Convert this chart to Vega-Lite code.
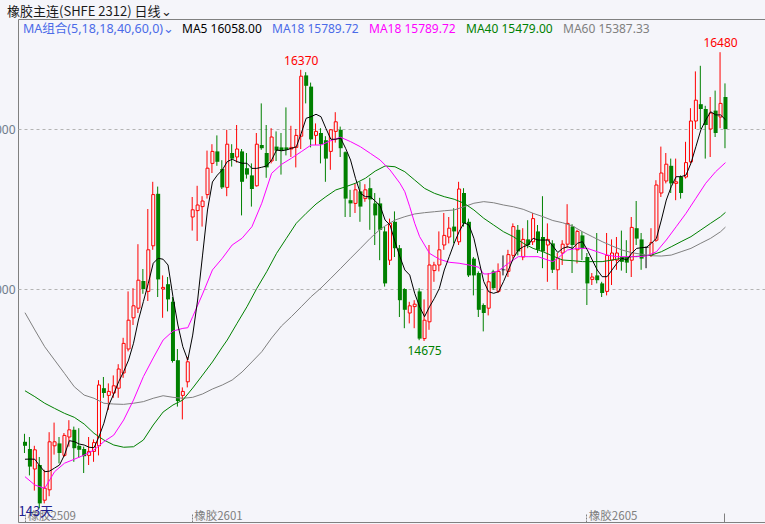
{
"$schema": "https://vega.github.io/schema/vega-lite/v6.json",
"width": 748, "height": 503,
"autosize": {"type": "none"},
"padding": {"left": 18, "top": 19, "right": 0, "bottom": 2},
"background": "#f5f5fa",
"title": {"text": "橡胶主连(SHFE 2312) 日线⌄", "anchor": "start", "frame": "group", "dx": -11, "dy": 15, "offset": 9, "baseline": "middle", "font": "Noto Sans CJK SC", "fontSize": 13, "fontWeight": "normal", "color": "#1a1a1a"},
"config": {"view": {"stroke": "#808080", "strokeWidth": 1}},
"datasets": {
"k": [
{"i":0,"o":14045,"h":14095,"l":13975,"c":14020,"m5":13936},
{"i":1,"o":14000,"h":14075,"l":13835,"c":13890,"m5":13937},
{"i":2,"o":13875,"h":14020,"l":13740,"c":13995,"m5":13936},
{"i":3,"o":13900,"h":13950,"l":13630,"c":13660,"m5":13894},
{"i":4,"o":13680,"h":13870,"l":13660,"c":13755,"m5":13858},
{"i":5,"o":13745,"h":14105,"l":13705,"c":14045,"m5":13862},
{"i":6,"o":14020,"h":14165,"l":13965,"c":14045,"m5":13881},
{"i":7,"o":14035,"h":14075,"l":13910,"c":13975,"m5":13900},
{"i":8,"o":13960,"h":14100,"l":13950,"c":14085,"m5":13962},
{"i":9,"o":14075,"h":14180,"l":14015,"c":14120,"m5":14052},
{"i":10,"o":14120,"h":14140,"l":13920,"c":14005,"m5":14046},
{"i":11,"o":14020,"h":14130,"l":13945,"c":13995,"m5":14031},
{"i":12,"o":14000,"h":14015,"l":13850,"c":13955,"m5":14025},
{"i":13,"o":13960,"h":14075,"l":13900,"c":13985,"m5":14011},
{"i":14,"o":13985,"h":14060,"l":13920,"c":14040,"m5":14008},
{"i":15,"o":14020,"h":14430,"l":13960,"c":14400,"m5":14077},
{"i":16,"o":14380,"h":14450,"l":14320,"c":14350,"m5":14161},
{"i":17,"o":14335,"h":14410,"l":14245,"c":14360,"m5":14275},
{"i":18,"o":14350,"h":14460,"l":14320,"c":14395,"m5":14344},
{"i":19,"o":14380,"h":14530,"l":14320,"c":14500,"m5":14421},
{"i":20,"o":14475,"h":14695,"l":14445,"c":14660,"m5":14483},
{"i":21,"o":14625,"h":14985,"l":14610,"c":14805,"m5":14556},
{"i":22,"o":14820,"h":15005,"l":14775,"c":14895,"m5":14661},
{"i":23,"o":14880,"h":15280,"l":14850,"c":15055,"m5":14806},
{"i":24,"o":15050,"h":15125,"l":14970,"c":15000,"m5":14921},
{"i":25,"o":14985,"h":15500,"l":14925,"c":15245,"m5":15036},
{"i":26,"o":15270,"h":15670,"l":15245,"c":15590,"m5":15161},
{"i":27,"o":15595,"h":15640,"l":14950,"c":15060,"m5":15192},
{"i":28,"o":15000,"h":15085,"l":14820,"c":15010,"m5":15186},
{"i":29,"o":15030,"h":15075,"l":14860,"c":14935,"m5":15150},
{"i":30,"o":14920,"h":14950,"l":14540,"c":14550,"m5":14952},
{"i":31,"o":14555,"h":14625,"l":14265,"c":14300,"m5":14775},
{"i":32,"o":14335,"h":14385,"l":14185,"c":14360,"m5":14639},
{"i":33,"o":14420,"h":14575,"l":14385,"c":14545,"m5":14556},
{"i":34,"o":15450,"h":15575,"l":15365,"c":15495,"m5":14712},
{"i":35,"o":15490,"h":15645,"l":15300,"c":15525,"m5":14931},
{"i":36,"o":15515,"h":15580,"l":15390,"c":15550,"m5":15212},
{"i":37,"o":15590,"h":15865,"l":15565,"c":15755,"m5":15494},
{"i":38,"o":15785,"h":15905,"l":15725,"c":15860,"m5":15669},
{"i":39,"o":15860,"h":15960,"l":15770,"c":15795,"m5":15712},
{"i":40,"o":15750,"h":15805,"l":15625,"c":15635,"m5":15744},
{"i":41,"o":15635,"h":15995,"l":15580,"c":15905,"m5":15796},
{"i":42,"o":15850,"h":15905,"l":15765,"c":15815,"m5":15811},
{"i":43,"o":15825,"h":16025,"l":15790,"c":15875,"m5":15796},
{"i":44,"o":15860,"h":15875,"l":15460,"c":15670,"m5":15786},
{"i":45,"o":15755,"h":15850,"l":15690,"c":15715,"m5":15786},
{"i":46,"o":15710,"h":15785,"l":15515,"c":15625,"m5":15754},
{"i":47,"o":15645,"h":15975,"l":15640,"c":15905,"m5":15754},
{"i":48,"o":15900,"h":16160,"l":15870,"c":15880,"m5":15761},
{"i":49,"o":15850,"h":16025,"l":15695,"c":15760,"m5":15769},
{"i":50,"o":15800,"h":16005,"l":15785,"c":15950,"m5":15806},
{"i":51,"o":15890,"h":15985,"l":15800,"c":15865,"m5":15869},
{"i":52,"o":15885,"h":15975,"l":15715,"c":15865,"m5":15864},
{"i":53,"o":15885,"h":16135,"l":15835,"c":15870,"m5":15869},
{"i":54,"o":15875,"h":16020,"l":15825,"c":15885,"m5":15879},
{"i":55,"o":15885,"h":16000,"l":15760,"c":15960,"m5":15889},
{"i":56,"o":15955,"h":16370,"l":15875,"c":16330,"m5":15973},
{"i":57,"o":16335,"h":16355,"l":16160,"c":16270,"m5":16067},
{"i":58,"o":16265,"h":16290,"l":15885,"c":15935,"m5":16077},
{"i":59,"o":15960,"h":16035,"l":15900,"c":15985,"m5":16092},
{"i":60,"o":15975,"h":16005,"l":15785,"c":15905,"m5":16077},
{"i":61,"o":15930,"h":15955,"l":15670,"c":15815,"m5":16004},
{"i":62,"o":15860,"h":16000,"l":15745,"c":15995,"m5":15936},
{"i":63,"o":15985,"h":16105,"l":15915,"c":16045,"m5":15936},
{"i":64,"o":15995,"h":16015,"l":15825,"c":15880,"m5":15942},
{"i":65,"o":15855,"h":15860,"l":15450,"c":15565,"m5":15879},
{"i":66,"o":15555,"h":15620,"l":15450,"c":15535,"m5":15806},
{"i":67,"o":15535,"h":15660,"l":15475,"c":15620,"m5":15692},
{"i":68,"o":15610,"h":15670,"l":15420,"c":15515,"m5":15598},
{"i":69,"o":15565,"h":15655,"l":15545,"c":15620,"m5":15577},
{"i":70,"o":15630,"h":15695,"l":15370,"c":15560,"m5":15577},
{"i":71,"o":15535,"h":15600,"l":15275,"c":15460,"m5":15550},
{"i":72,"o":15535,"h":15570,"l":15180,"c":15370,"m5":15519},
{"i":73,"o":15360,"h":15390,"l":15015,"c":15035,"m5":15431},
{"i":74,"o":15180,"h":15440,"l":15150,"c":15410,"m5":15400},
{"i":75,"o":15420,"h":15485,"l":15200,"c":15255,"m5":15296},
{"i":76,"o":15255,"h":15275,"l":14825,"c":14930,"m5":15202},
{"i":77,"o":15000,"h":15005,"l":14755,"c":14870,"m5":15119},
{"i":78,"o":14850,"h":14920,"l":14785,"c":14895,"m5":15087},
{"i":79,"o":14890,"h":14930,"l":14755,"c":14905,"m5":14973},
{"i":80,"o":14985,"h":15005,"l":14680,"c":14690,"m5":14889},
{"i":81,"o":14690,"h":14935,"l":14675,"c":14805,"m5":14827},
{"i":82,"o":14795,"h":15275,"l":14745,"c":15150,"m5":14889},
{"i":83,"o":15115,"h":15170,"l":15045,"c":15150,"m5":14942},
{"i":84,"o":15150,"h":15360,"l":15110,"c":15245,"m5":15004},
{"i":85,"o":15275,"h":15475,"l":15245,"c":15335,"m5":15119},
{"i":86,"o":15325,"h":15450,"l":15285,"c":15380,"m5":15202},
{"i":87,"o":15390,"h":15505,"l":15285,"c":15360,"m5":15286},
{"i":88,"o":15295,"h":15670,"l":15275,"c":15625,"m5":15358},
{"i":89,"o":15600,"h":15630,"l":15390,"c":15410,"m5":15414},
{"i":90,"o":15420,"h":15440,"l":15075,"c":15085,"m5":15400},
{"i":91,"o":15190,"h":15200,"l":14960,"c":15085,"m5":15317},
{"i":92,"o":15100,"h":15110,"l":14825,"c":14870,"m5":15181},
{"i":93,"o":14900,"h":14910,"l":14735,"c":14850,"m5":15046},
{"i":94,"o":14880,"h":15100,"l":14835,"c":15045,"m5":14983},
{"i":95,"o":15110,"h":15120,"l":14995,"c":15005,"m5":14973},
{"i":96,"o":14985,"h":15160,"l":14975,"c":15110,"m5":14983},
{"i":97,"o":15120,"h":15210,"l":15085,"c":15120,"m5":15046},
{"i":98,"o":15110,"h":15245,"l":15075,"c":15215,"m5":15119},
{"i":99,"o":15210,"h":15410,"l":15190,"c":15390,"m5":15192},
{"i":100,"o":15370,"h":15400,"l":15210,"c":15235,"m5":15244},
{"i":101,"o":15200,"h":15380,"l":15180,"c":15310,"m5":15264},
{"i":102,"o":15310,"h":15430,"l":15255,"c":15275,"m5":15275},
{"i":103,"o":15295,"h":15475,"l":15275,"c":15440,"m5":15317},
{"i":104,"o":15360,"h":15400,"l":15225,"c":15245,"m5":15306},
{"i":105,"o":15325,"h":15580,"l":15130,"c":15235,"m5":15306},
{"i":106,"o":15275,"h":15410,"l":15045,"c":15310,"m5":15306},
{"i":107,"o":15285,"h":15305,"l":15100,"c":15120,"m5":15269},
{"i":108,"o":15120,"h":15225,"l":14995,"c":15190,"m5":15228},
{"i":109,"o":15225,"h":15305,"l":15150,"c":15280,"m5":15254},
{"i":110,"o":15280,"h":15530,"l":15255,"c":15410,"m5":15264},
{"i":111,"o":15390,"h":15405,"l":15100,"c":15275,"m5":15254},
{"i":112,"o":15245,"h":15370,"l":15160,"c":15360,"m5":15286},
{"i":113,"o":15335,"h":15360,"l":15180,"c":15255,"m5":15296},
{"i":114,"o":15200,"h":15225,"l":14900,"c":15035,"m5":15244},
{"i":115,"o":15060,"h":15100,"l":15025,"c":15075,"m5":15181},
{"i":116,"o":15085,"h":15350,"l":15035,"c":15055,"m5":15119},
{"i":117,"o":15035,"h":15045,"l":14950,"c":14975,"m5":15077},
{"i":118,"o":14985,"h":15350,"l":14960,"c":15210,"m5":15077},
{"i":119,"o":15180,"h":15310,"l":15025,"c":15225,"m5":15119},
{"i":120,"o":15180,"h":15325,"l":15120,"c":15225,"m5":15161},
{"i":121,"o":15200,"h":15365,"l":15115,"c":15170,"m5":15192},
{"i":122,"o":15200,"h":15305,"l":15100,"c":15165,"m5":15181},
{"i":123,"o":15180,"h":15450,"l":15075,"c":15385,"m5":15223},
{"i":124,"o":15380,"h":15550,"l":15275,"c":15315,"m5":15254},
{"i":125,"o":15310,"h":15350,"l":15120,"c":15190,"m5":15258},
{"i":126,"o":15260,"h":15265,"l":15130,"c":15260,"m5":15261},
{"i":127,"o":15210,"h":15380,"l":15200,"c":15290,"m5":15286},
{"i":128,"o":15305,"h":15680,"l":15295,"c":15650,"m5":15317},
{"i":129,"o":15600,"h":15890,"l":15575,"c":15725,"m5":15431},
{"i":130,"o":15675,"h":15850,"l":15660,"c":15780,"m5":15556},
{"i":131,"o":15770,"h":15815,"l":15600,"c":15660,"m5":15639},
{"i":132,"o":15660,"h":15815,"l":15555,"c":15670,"m5":15702},
{"i":133,"o":15700,"h":15710,"l":15565,"c":15600,"m5":15702},
{"i":134,"o":15700,"h":15920,"l":15690,"c":15790,"m5":15712},
{"i":135,"o":15795,"h":16130,"l":15785,"c":16050,"m5":15786},
{"i":136,"o":16050,"h":16360,"l":16000,"c":16180,"m5":15889},
{"i":137,"o":16155,"h":16395,"l":16000,"c":16125,"m5":15994},
{"i":138,"o":16125,"h":16145,"l":15815,"c":16025,"m5":16056},
{"i":139,"o":16000,"h":16200,"l":15825,"c":16100,"m5":16108},
{"i":140,"o":16115,"h":16240,"l":15950,"c":15975,"m5":16088},
{"i":141,"o":16075,"h":16480,"l":16005,"c":16160,"m5":16088},
{"i":142,"o":16200,"h":16285,"l":15880,"c":16000,"m5":16058}
],
"ma18": [
{"i":0,"v":13827},{"i":2,"v":13775},{"i":4,"v":13754},{"i":6,"v":13858},{"i":8,"v":13911},{"i":10,"v":13936},{"i":12,"v":13962},{"i":14,"v":13994},{"i":16,"v":14046},{"i":18,"v":14087},{"i":20,"v":14181},{"i":22,"v":14306},{"i":24,"v":14452},{"i":26,"v":14569},{"i":28,"v":14681},{"i":30,"v":14737},{"i":32,"v":14754},{"i":33,"v":14758},{"i":34,"v":14827},{"i":36,"v":14969},{"i":38,"v":15119},{"i":40,"v":15192},{"i":42,"v":15275},{"i":44,"v":15317},{"i":46,"v":15389},{"i":48,"v":15536},{"i":50,"v":15723},{"i":52,"v":15779},{"i":54,"v":15817},{"i":56,"v":15858},{"i":58,"v":15900},{"i":60,"v":15900},{"i":62,"v":15927},{"i":64,"v":15948},{"i":66,"v":15921},{"i":68,"v":15889},{"i":70,"v":15848},{"i":72,"v":15806},{"i":74,"v":15744},{"i":76,"v":15661},{"i":77,"v":15608},{"i":78,"v":15514},{"i":79,"v":15411},{"i":80,"v":15327},{"i":82,"v":15223},{"i":84,"v":15186},{"i":86,"v":15167},{"i":88,"v":15161},{"i":90,"v":15150},{"i":92,"v":15136},{"i":93,"v":15094},{"i":94,"v":15094},{"i":96,"v":15114},{"i":98,"v":15161},{"i":100,"v":15202},{"i":102,"v":15202},{"i":104,"v":15202},{"i":106,"v":15181},{"i":107,"v":15171},{"i":108,"v":15192},{"i":110,"v":15244},{"i":112,"v":15254},{"i":114,"v":15254},{"i":116,"v":15233},{"i":118,"v":15212},{"i":120,"v":15202},{"i":122,"v":15202},{"i":124,"v":15202},{"i":126,"v":15206},{"i":128,"v":15233},{"i":130,"v":15306},{"i":132,"v":15389},{"i":134,"v":15473},{"i":136,"v":15567},{"i":138,"v":15661},{"i":140,"v":15733},{"i":142,"v":15790}
],
"ma40": [
{"i":0,"v":14364},{"i":2,"v":14327},{"i":4,"v":14286},{"i":6,"v":14254},{"i":8,"v":14223},{"i":10,"v":14198},{"i":12,"v":14156},{"i":14,"v":14098},{"i":16,"v":14056},{"i":18,"v":14025},{"i":20,"v":14011},{"i":22,"v":14014},{"i":24,"v":14056},{"i":26,"v":14150},{"i":28,"v":14231},{"i":30,"v":14275},{"i":32,"v":14306},{"i":34,"v":14381},{"i":36,"v":14462},{"i":38,"v":14544},{"i":40,"v":14637},{"i":41,"v":14681},{"i":43,"v":14786},{"i":45,"v":14889},{"i":47,"v":15004},{"i":49,"v":15108},{"i":51,"v":15223},{"i":53,"v":15317},{"i":55,"v":15411},{"i":57,"v":15473},{"i":59,"v":15531},{"i":61,"v":15577},{"i":63,"v":15619},{"i":65,"v":15639},{"i":67,"v":15661},{"i":69,"v":15692},{"i":71,"v":15737},{"i":73,"v":15769},{"i":75,"v":15764},{"i":77,"v":15733},{"i":79,"v":15681},{"i":81,"v":15629},{"i":83,"v":15598},{"i":85,"v":15577},{"i":87,"v":15561},{"i":89,"v":15536},{"i":91,"v":15494},{"i":93,"v":15442},{"i":95,"v":15400},{"i":97,"v":15358},{"i":99,"v":15327},{"i":101,"v":15286},{"i":103,"v":15254},{"i":105,"v":15233},{"i":107,"v":15206},{"i":109,"v":15181},{"i":111,"v":15177},{"i":113,"v":15171},{"i":115,"v":15171},{"i":117,"v":15171},{"i":119,"v":15181},{"i":121,"v":15192},{"i":123,"v":15202},{"i":125,"v":15206},{"i":127,"v":15212},{"i":129,"v":15233},{"i":131,"v":15264},{"i":133,"v":15296},{"i":135,"v":15327},{"i":137,"v":15369},{"i":139,"v":15411},{"i":141,"v":15452},{"i":142,"v":15479}
],
"ma60": [
{"i":0,"v":14852},{"i":2,"v":14744},{"i":4,"v":14639},{"i":6,"v":14556},{"i":8,"v":14473},{"i":10,"v":14389},{"i":12,"v":14337},{"i":14,"v":14317},{"i":16,"v":14286},{"i":18,"v":14281},{"i":20,"v":14279},{"i":22,"v":14286},{"i":24,"v":14296},{"i":26,"v":14317},{"i":28,"v":14333},{"i":30,"v":14323},{"i":32,"v":14317},{"i":34,"v":14323},{"i":36,"v":14344},{"i":38,"v":14375},{"i":40,"v":14400},{"i":42,"v":14431},{"i":44,"v":14481},{"i":46,"v":14544},{"i":48,"v":14608},{"i":50,"v":14694},{"i":52,"v":14769},{"i":54,"v":14827},{"i":56,"v":14889},{"i":58,"v":14952},{"i":60,"v":15006},{"i":62,"v":15067},{"i":64,"v":15129},{"i":66,"v":15192},{"i":68,"v":15254},{"i":70,"v":15317},{"i":72,"v":15373},{"i":73,"v":15394},{"i":75,"v":15431},{"i":77,"v":15452},{"i":79,"v":15469},{"i":81,"v":15477},{"i":83,"v":15483},{"i":85,"v":15489},{"i":87,"v":15494},{"i":89,"v":15514},{"i":91,"v":15536},{"i":93,"v":15546},{"i":95,"v":15539},{"i":97,"v":15525},{"i":99,"v":15514},{"i":101,"v":15498},{"i":103,"v":15473},{"i":105,"v":15452},{"i":107,"v":15428},{"i":109,"v":15414},{"i":111,"v":15394},{"i":113,"v":15358},{"i":115,"v":15327},{"i":117,"v":15296},{"i":119,"v":15269},{"i":121,"v":15244},{"i":123,"v":15227},{"i":125,"v":15217},{"i":127,"v":15208},{"i":129,"v":15206},{"i":131,"v":15212},{"i":133,"v":15233},{"i":135,"v":15254},{"i":137,"v":15286},{"i":139,"v":15317},{"i":141,"v":15358},{"i":142,"v":15387}
],
"ann": [
{"i":56,"p":16370,"t":"16370","k":"hi"},
{"i":141,"p":16480,"t":"16480","k":"hi"},
{"i":81,"p":14675,"t":"14675","k":"lo"}
]
},
"layer": [
{
"data": {"name": "k"},
"mark": {"type": "rule", "strokeWidth": 1, "xOffset": -0.5},
"encoding": {
"x": {"field": "i", "type": "quantitative", "scale": {"domain": [-0.4, 149.2], "nice": false, "zero": false},
"axis": {"values": [0, 33.8, 113.8, 141.6], "title": "143天", "domain": false, "grid": false, "ticks": true, "tickSize": -9, "tickColor": "#808080", "tickWidth": 1,
"tickDash": {"condition": {"test": "datum.value > 140", "value": []}, "value": [2, 1]},
"labelExpr": "datum.value == 0 ? '橡胶2509' : datum.value < 40 ? '橡胶2601' : datum.value < 120 ? '橡胶2605' : ''",
"labelAlign": "left", "labelBaseline": "bottom", "labelPadding": 8, "labelOffset": 2, "labelOverlap": false, "labelFlush": false,
"labelFont": "Noto Sans CJK SC", "labelFontSize": 11.5, "labelColor": "#808080",
"titleX": 0, "titleY": -4, "titleAlign": "left", "titleBaseline": "bottom", "titleFont": "Noto Sans CJK SC", "titleFontSize": 13, "titleFontWeight": "normal", "titleColor": "#202090"}},
"y": {"field": "l", "type": "quantitative", "scale": {"domain": [13543.75, 16687.5], "nice": false, "zero": false},
"axis": {"values": [15000, 16000], "title": null, "domain": false, "ticks": false, "grid": true, "gridColor": "#b4b4b4", "gridDash": [3, 3], "gridWidth": 1, "labelFont": "Noto Sans", "labelFontSize": 12, "labelColor": "#6e7b8b", "labelPadding": 3, "labelAlign": "right", "labelBaseline": "middle"}},
"y2": {"field": "h"},
"color": {"condition": [{"test": "datum.c > datum.o", "value": "#ff0000"}, {"test": "datum.c < datum.o", "value": "#008000"}], "value": "#000000"}
}
},
{
"data": {"name": "k"},
"transform": [{"filter": "datum.c > datum.o"}],
"mark": {"type": "bar", "size": 3, "fill": "#f5f5fa", "stroke": "#ff0000", "strokeWidth": 1},
"encoding": {
"x": {"field": "i", "type": "quantitative"},
"y": {"field": "o", "type": "quantitative"},
"y2": {"field": "c"}
}
},
{
"data": {"name": "k"},
"transform": [{"filter": "datum.c < datum.o"}],
"mark": {"type": "bar", "size": 4, "fill": "#008000", "strokeWidth": 0},
"encoding": {
"x": {"field": "i", "type": "quantitative"},
"y": {"field": "o", "type": "quantitative"},
"y2": {"field": "c"}
}
},
{
"data": {"name": "k"},
"transform": [{"filter": "datum.c == datum.o"}],
"mark": {"type": "tick", "orient": "horizontal", "size": 4, "thickness": 1, "color": "#000000"},
"encoding": {
"x": {"field": "i", "type": "quantitative"},
"y": {"field": "o", "type": "quantitative"}
}
},
{
"data": {"name": "ma60"},
"mark": {"type": "line", "strokeWidth": 1},
"encoding": {
"x": {"field": "i", "type": "quantitative"},
"y": {"field": "v", "type": "quantitative"},
"color": {"datum": "MA60"}
}
},
{
"data": {"name": "ma40"},
"mark": {"type": "line", "strokeWidth": 1},
"encoding": {
"x": {"field": "i", "type": "quantitative"},
"y": {"field": "v", "type": "quantitative"},
"color": {"datum": "MA40"}
}
},
{
"data": {"name": "ma18"},
"mark": {"type": "line", "strokeWidth": 1},
"encoding": {
"x": {"field": "i", "type": "quantitative"},
"y": {"field": "v", "type": "quantitative"},
"color": {"datum": "MA18"}
}
},
{
"data": {"name": "k"},
"mark": {"type": "line", "strokeWidth": 1},
"encoding": {
"x": {"field": "i", "type": "quantitative"},
"y": {"field": "m5", "type": "quantitative"},
"color": {"datum": "MA5", "type": "nominal",
"scale": {"domain": ["MA5", "MA18b", "MA18", "MA40", "MA60"], "range": ["#000000", "#4b6be8", "#ff00ff", "#008000", "#808080"]},
"legend": {"orient": "none", "legendX": 5, "legendY": 4, "direction": "horizontal", "columns": 5, "gridAlign": "none", "padding": 0,
"title": "MA组合(5,18,18,40,60,0)⌄", "titleOrient": "left", "titleFont": "Noto Sans, Noto Sans CJK SC", "titleFontSize": 12.5, "titleFontWeight": "normal", "titleColor": "#4b6be8", "titlePadding": 8, "titleBaseline": "middle",
"symbolSize": 0, "symbolStrokeWidth": 0, "symbolOpacity": 0, "labelOffset": -13, "columnPadding": 10,
"labelFont": "Noto Sans", "labelFontSize": 12, "labelLimit": 300,
"labelExpr": "datum.label == 'MA5' ? 'MA5 16058.00' : datum.label == 'MA40' ? 'MA40 15479.00' : datum.label == 'MA60' ? 'MA60 15387.33' : 'MA18 15789.72'",
"encode": {"labels": {"update": {"fill": {"scale": "color", "field": "value"}}}}}}
}
},
{
"data": {"name": "ann"},
"transform": [{"filter": "datum.k == 'hi'"}],
"mark": {"type": "text", "dy": -9, "font": "Noto Sans", "fontSize": 12, "color": "#ff0000", "baseline": "middle"},
"encoding": {
"x": {"field": "i", "type": "quantitative"},
"y": {"field": "p", "type": "quantitative"},
"text": {"field": "t"}
}
},
{
"data": {"name": "ann"},
"transform": [{"filter": "datum.k == 'lo'"}],
"mark": {"type": "text", "dy": 10, "font": "Noto Sans", "fontSize": 12, "color": "#008000", "baseline": "middle"},
"encoding": {
"x": {"field": "i", "type": "quantitative"},
"y": {"field": "p", "type": "quantitative"},
"text": {"field": "t"}
}
}
]
}
